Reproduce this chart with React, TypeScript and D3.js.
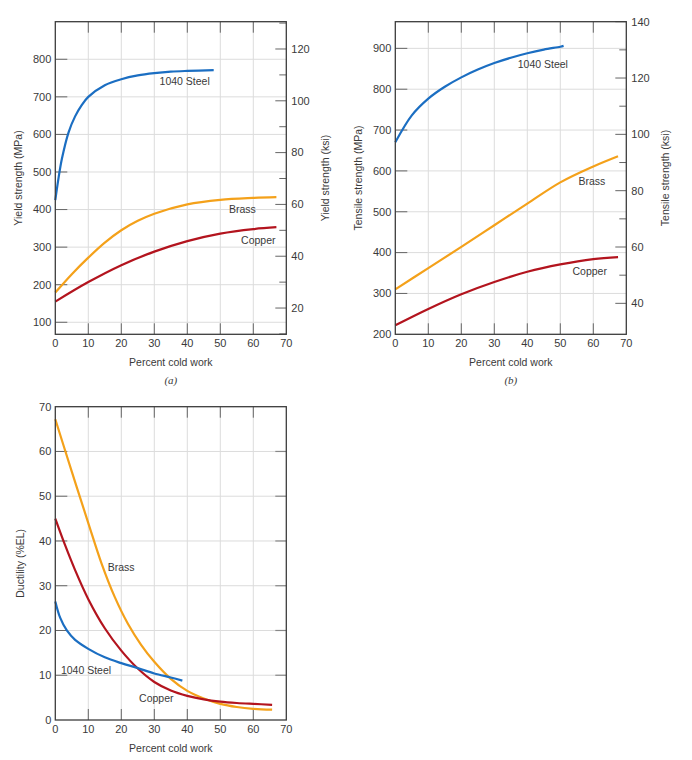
import React from "react";
import * as d3 from "d3";

// ---------- Data ----------
const coldWork = [0, 10, 20, 30, 40, 50, 60, 70];

// (a) Yield strength (MPa)
const steelYieldX = [0, 1, 2, 4, 6, 8, 10, 15, 20, 25, 30, 35, 40, 48];
const steelYieldY = [425, 485, 535, 605, 648, 678, 700, 731, 747, 757, 763, 767, 769, 771];
const brassYieldX = [0, 5, 10, 15, 20, 25, 30, 40, 50, 60, 67];
const brassYieldY = [179, 228, 272, 312, 345, 370, 389, 414, 426, 431, 433];
const copperYieldX = [0, 10, 20, 30, 40, 50, 60, 67];
const copperYieldY = [155, 207, 252, 288, 316, 336, 348, 353];
const yieldTicksMPa = [100, 200, 300, 400, 500, 600, 700, 800];
const yieldTicksKsi = [20, 40, 60, 80, 100, 120];

// (b) Tensile strength (MPa)
const steelTensX = [0, 5, 10, 15, 20, 25, 30, 35, 40, 45, 50, 51];
const steelTensY = [670, 736, 777, 806, 829, 848, 864, 877, 888, 897, 904, 906];
const brassTensX = [0, 10, 20, 30, 40, 50, 60, 67.5];
const brassTensY = [310, 362, 414, 467, 520, 572, 611, 636];
const copperTensX = [0, 10, 20, 30, 40, 50, 60, 67.5];
const copperTensY = [222, 262, 298, 328, 353, 371, 384, 389];
const tensTicksMPa = [200, 300, 400, 500, 600, 700, 800, 900];
const tensTicksKsi = [40, 60, 80, 100, 120, 140];

// (c) Ductility (%EL)
const brassDuctX = [0, 5, 10, 14, 18, 22, 26, 30, 35, 40, 45, 50, 55, 60, 65.7];
const brassDuctY = [67.2, 55.5, 44, 35, 27.5, 21.5, 16.8, 13, 9.2, 6.5, 4.8, 3.6, 2.9, 2.5, 2.3];
const copperDuctX = [0, 3, 6, 10, 15, 20, 25, 30, 35, 40, 45, 50, 55, 60, 65.7];
const copperDuctY = [45, 39, 33.5, 27, 20.5, 15.5, 11.5, 8.5, 6.6, 5.4, 4.6, 4.1, 3.8, 3.6, 3.4];
const steelDuctX = [0, 1.5, 3.5, 6, 10, 15, 20, 25, 30, 35, 38.5];
const steelDuctY = [26.5, 22.8, 20, 17.9, 15.9, 14, 12.7, 11.6, 10.4, 9.5, 8.8];
const ductTicks = [0, 10, 20, 30, 40, 50, 60, 70];

const KSI = 6.894757;

const COL_STEEL = "#1b6ec2";
const COL_BRASS = "#f4a11a";
const COL_COPPER = "#b3141e";
const FONT = "'Liberation Sans', Arial, sans-serif";
const TXT = "#3a3a3a";

type Series = { xs: number[]; ys: number[]; color: string };
type Label = { text: string; x: number; y: number };

type PanelProps = {
  left: number;
  right: number;
  top: number;
  bottom: number;
  yDomain: [number, number];
  yTicks: number[];
  rightTicks?: number[]; // in ksi
  rightMinor?: number[];
  rightPlainTicks?: number[];
  series: Series[];
  labels: Label[];
  yTitle: string;
  yTitleX: number;
  rTitle?: string;
  rTitleX?: number;
  caption?: string;
};

function Panel(p: PanelProps) {
  const x = d3.scaleLinear().domain([0, 70]).range([p.left, p.right]);
  const y = d3.scaleLinear().domain(p.yDomain).range([p.bottom, p.top]);
  const line = d3
    .line<[number, number]>()
    .x((d) => x(d[0]))
    .y((d) => y(d[1]))
    .curve(d3.curveCatmullRom.alpha(0.5));
  const innerX = coldWork.filter((v) => v > 0 && v < 70);
  const midY = (p.top + p.bottom) / 2;
  const midX = (p.left + p.right) / 2;
  return (
    <g fontFamily={FONT}>
      {innerX.map((v) => (
        <line key={"gx" + v} x1={x(v)} x2={x(v)} y1={p.top} y2={p.bottom} stroke="#dcdcdc" strokeWidth={1} />
      ))}
      {p.yTicks
        .filter((v) => v > p.yDomain[0] && v < p.yDomain[1])
        .map((v) => (
          <line key={"gy" + v} x1={p.left} x2={p.right} y1={y(v)} y2={y(v)} stroke="#dcdcdc" strokeWidth={1} />
        ))}
      {innerX.map((v) => (
        <g key={"xt" + v}>
          <line x1={x(v)} x2={x(v)} y1={p.top} y2={p.top + 11} stroke="#666" strokeWidth={1} />
          <line x1={x(v)} x2={x(v)} y1={p.bottom} y2={p.bottom - 11} stroke="#666" strokeWidth={1} />
        </g>
      ))}
      {p.yTicks
        .filter((v) => v > p.yDomain[0] && v < p.yDomain[1])
        .map((v) => (
          <line key={"lt" + v} x1={p.left} x2={p.left + 12} y1={y(v)} y2={y(v)} stroke="#666" strokeWidth={1} />
        ))}
      {(p.rightPlainTicks || []).map((v) => (
        <line key={"rp" + v} x1={p.right} x2={p.right - 11} y1={y(v)} y2={y(v)} stroke="#888" strokeWidth={1.2} />
      ))}
      {(p.rightTicks || []).map((k) => (
        <g key={"rk" + k}>
          <line x1={p.right} x2={p.right - 11} y1={y(k * KSI)} y2={y(k * KSI)} stroke="#666" strokeWidth={1} />
          <text x={p.right + 5} y={y(k * KSI)} dy="0.35em" fontSize={11} fill={TXT}>
            {k}
          </text>
        </g>
      ))}
      {(p.rightMinor || []).map((k) => (
        <line key={"rm" + k} x1={p.right} x2={p.right - 7} y1={y(k * KSI)} y2={y(k * KSI)} stroke="#666" strokeWidth={1} />
      ))}
      {p.series.map((s, i) => (
        <path
          key={"s" + i}
          d={line(s.xs.map((xv, j) => [xv, s.ys[j]] as [number, number])) || ""}
          fill="none"
          stroke={s.color}
          strokeWidth={2.2}
        />
      ))}
      <rect x={p.left} y={p.top} width={p.right - p.left} height={p.bottom - p.top} fill="none" stroke="#3c3c3c" strokeWidth={1.3} />
      {p.yTicks.map((v) => (
        <text key={"ll" + v} x={p.left - 4} y={y(v)} dy="0.35em" textAnchor="end" fontSize={11} fill={TXT}>
          {v}
        </text>
      ))}
      {coldWork.map((v) => (
        <text key={"xl" + v} x={x(v)} y={p.bottom + 13} textAnchor="middle" fontSize={11} fill={TXT}>
          {v}
        </text>
      ))}
      <text x={midX} y={p.bottom + 32} textAnchor="middle" fontSize={10.5} fill={TXT}>
        Percent cold work
      </text>
      {p.caption && (
        <text x={midX} y={p.bottom + 49.5} textAnchor="middle" fontSize={11} fontStyle="italic" fontFamily="'Liberation Serif', 'DejaVu Serif', serif" fill={TXT}>
          {p.caption}
        </text>
      )}
      <text transform={`translate(${p.yTitleX},${midY}) rotate(-90)`} textAnchor="middle" fontSize={10.5} fill={TXT} dy="0.35em">
        {p.yTitle}
      </text>
      {p.rTitle && (
        <text transform={`translate(${p.rTitleX},${midY}) rotate(-90)`} textAnchor="middle" fontSize={10.5} fill={TXT} dy="0.35em">
          {p.rTitle}
        </text>
      )}
      {p.labels.map((l, i) => (
        <text key={"lab" + i} x={x(l.x)} y={y(l.y)} dy="0.35em" fontSize={10.5} fill={TXT}>
          {l.text}
        </text>
      ))}
    </g>
  );
}

export default function App() {
  return (
    <svg width={692} height={760} style={{ position: "absolute", left: 0, top: 0, background: "#fff" }}>
      <rect x={0} y={0} width={692} height={760} fill="#fff" />
      <Panel
        left={55.3}
        right={286.3}
        top={21.7}
        bottom={334.3}
        yDomain={[68, 900]}
        yTicks={yieldTicksMPa}
        rightTicks={yieldTicksKsi}
        rightMinor={[10, 30, 50, 70, 90, 110, 130].filter((k) => k * KSI > 68 && k * KSI < 900)}
        series={[
          { xs: steelYieldX, ys: steelYieldY, color: COL_STEEL },
          { xs: brassYieldX, ys: brassYieldY, color: COL_BRASS },
          { xs: copperYieldX, ys: copperYieldY, color: COL_COPPER },
        ]}
        labels={[
          { text: "1040 Steel", x: 31.6, y: 740 },
          { text: "Brass", x: 52.6, y: 400 },
          { text: "Copper", x: 56.3, y: 318 },
        ]}
        yTitle="Yield strength (MPa)"
        yTitleX={18}
        rTitle="Yield strength (ksi)"
        rTitleX={325}
        caption="(a)"
      />
      <Panel
        left={395.3}
        right={626.3}
        top={21.7}
        bottom={334.3}
        yDomain={[200, 140 * KSI]}
        yTicks={tensTicksMPa}
        rightTicks={tensTicksKsi}
        rightMinor={[50, 70, 90, 110, 130]}
        series={[
          { xs: steelTensX, ys: steelTensY, color: COL_STEEL },
          { xs: brassTensX, ys: brassTensY, color: COL_BRASS },
          { xs: copperTensX, ys: copperTensY, color: COL_COPPER },
        ]}
        labels={[
          { text: "1040 Steel", x: 37.1, y: 860 },
          { text: "Brass", x: 55.5, y: 575 },
          { text: "Copper", x: 53.7, y: 353 },
        ]}
        yTitle="Tensile strength (MPa)"
        yTitleX={358}
        rTitle="Tensile strength (ksi)"
        rTitleX={665}
        caption="(b)"
      />
      <Panel
        left={55.3}
        right={286.3}
        top={406.7}
        bottom={720}
        yDomain={[0, 70]}
        yTicks={ductTicks}
        rightPlainTicks={[10, 20, 30, 40, 50, 60]}
        series={[
          { xs: brassDuctX, ys: brassDuctY, color: COL_BRASS },
          { xs: copperDuctX, ys: copperDuctY, color: COL_COPPER },
          { xs: steelDuctX, ys: steelDuctY, color: COL_STEEL },
        ]}
        labels={[
          { text: "Brass", x: 15.9, y: 34.2 },
          { text: "1040 Steel", x: 1.7, y: 11.1 },
          { text: "Copper", x: 25.4, y: 4.9 },
        ]}
        yTitle="Ductility (%EL)"
        yTitleX={20}
      />
    </svg>
  );
}
